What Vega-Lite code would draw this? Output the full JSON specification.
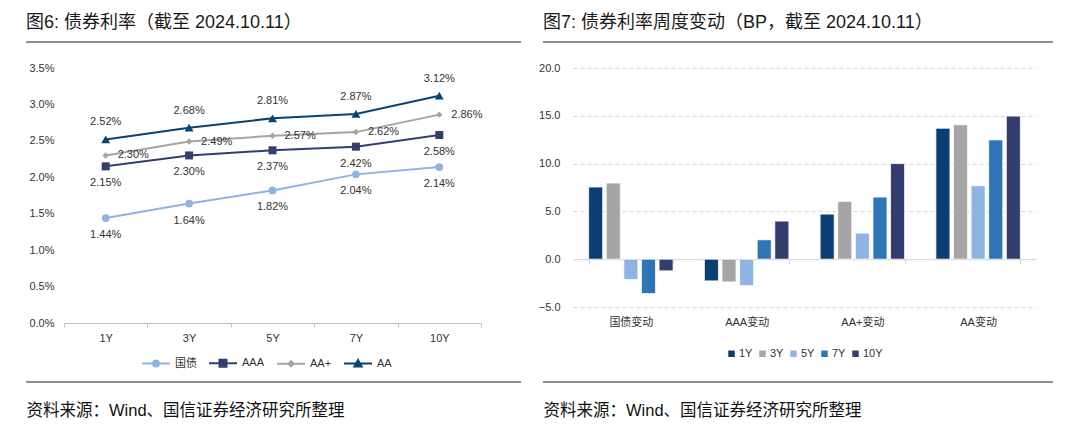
{
  "$schema": "https://vega.github.io/schema/vega-lite/v6.json",
  "background": "white",
  "padding": {"left": 25, "top": 13, "right": 5, "bottom": 5},
  "spacing": 15,
  "resolve": {"scale": {"color": "independent"}, "legend": {"color": "independent"}},
  "config": {
    "font": "Liberation Sans, Noto Sans CJK SC",
    "title": {"anchor": "start", "frame": "group", "offset": 10, "baseline": "alphabetic", "fontSize": 18, "fontWeight": "normal", "color": "#1a1a1a"},
    "legend": {"padding": 0}
  },
  "hconcat": [
    {
      "width": 495,
      "height": 340,
      "view": {"stroke": "#6b6b6b", "strokeWidth": 1.5, "strokeDash": [495, 340]},
      "title": {"text": "图6: 债券利率（截至 2024.10.11）"},
      "data": {"values": [
        {"series": "国债", "tenor": "1Y", "rate": 0.0144},
        {"series": "国债", "tenor": "3Y", "rate": 0.0164},
        {"series": "国债", "tenor": "5Y", "rate": 0.0182},
        {"series": "国债", "tenor": "7Y", "rate": 0.0204},
        {"series": "国债", "tenor": "10Y", "rate": 0.0214},
        {"series": "AAA", "tenor": "1Y", "rate": 0.0215},
        {"series": "AAA", "tenor": "3Y", "rate": 0.0230},
        {"series": "AAA", "tenor": "5Y", "rate": 0.0237},
        {"series": "AAA", "tenor": "7Y", "rate": 0.0242},
        {"series": "AAA", "tenor": "10Y", "rate": 0.0258},
        {"series": "AA+", "tenor": "1Y", "rate": 0.0230},
        {"series": "AA+", "tenor": "3Y", "rate": 0.0249},
        {"series": "AA+", "tenor": "5Y", "rate": 0.0257},
        {"series": "AA+", "tenor": "7Y", "rate": 0.0262},
        {"series": "AA+", "tenor": "10Y", "rate": 0.0286},
        {"series": "AA", "tenor": "1Y", "rate": 0.0252},
        {"series": "AA", "tenor": "3Y", "rate": 0.0268},
        {"series": "AA", "tenor": "5Y", "rate": 0.0281},
        {"series": "AA", "tenor": "7Y", "rate": 0.0287},
        {"series": "AA", "tenor": "10Y", "rate": 0.0312}
      ]},
      "encoding": {
        "x": {
          "field": "tenor", "type": "ordinal", "sort": ["1Y", "3Y", "5Y", "7Y", "10Y"], "bandPosition": 0.5,
          "scale": {"type": "band", "range": [38, 455], "paddingInner": 0, "paddingOuter": 0},
          "axis": {
            "orient": "bottom", "offset": -59, "tickBand": "extent", "domainColor": "#bfbfbf", "tickColor": "#bfbfbf",
            "tickSize": 4, "labelPadding": 5, "labelFontSize": 11, "labelColor": "#333333", "labelAngle": 0, "grid": false,
            "title": "资料来源：Wind、国信证券经济研究所整理", "titleX": 0, "titleY": 87, "titleAlign": "left",
            "titleBaseline": "middle", "titleFontSize": 16.5, "titleFontWeight": "normal", "titleColor": "#111111"
          }
        },
        "y": {
          "field": "rate", "type": "quantitative",
          "scale": {"domain": [0, 0.035], "range": [281, 26], "nice": false, "zero": true},
          "axis": {
            "offset": -38, "values": [0, 0.005, 0.01, 0.015, 0.02, 0.025, 0.03, 0.035], "format": ".1%",
            "domain": false, "ticks": false, "grid": false, "labelPadding": 10, "labelFontSize": 11, "labelColor": "#333333", "title": null
          }
        },
        "color": {
          "field": "series", "type": "nominal",
          "scale": {"domain": ["国债", "AAA", "AA+", "AA"], "range": ["#8db4e2", "#333f70", "#a5a5a5", "#0b4373"]},
          "legend": {
            "orient": "none", "legendX": 115, "legendY": 306, "direction": "horizontal", "title": null,
            "symbolSize": 784, "symbolStrokeWidth": 2, "labelFontSize": 11, "labelColor": "#333333",
            "labelOffset": 4, "columnPadding": 8,
            "encode": {"symbols": {"update": {
              "shape": {"signal": "datum.value === '国债' ? 'M-1,0H1M0.21,0A0.21,0.21,0,1,1,-0.21,0A0.21,0.21,0,1,1,0.21,0Z' : datum.value === 'AAA' ? 'M-1,0H1M-0.25,-0.25H0.25V0.25H-0.25Z' : datum.value === 'AA+' ? 'M-1,0H1M0,-0.18L0.18,0L0,0.18L-0.18,0Z' : 'M-1,0H1M0,-0.26L0.26,0.2H-0.26Z'"},
              "size": {"value": 784},
              "fill": {"signal": "datum.value === '国债' ? '#8db4e2' : datum.value === 'AAA' ? '#333f70' : datum.value === 'AA+' ? '#a5a5a5' : '#0b4373'"},
              "stroke": {"signal": "datum.value === '国债' ? '#8db4e2' : datum.value === 'AAA' ? '#333f70' : datum.value === 'AA+' ? '#a5a5a5' : '#0b4373'"},
              "strokeWidth": {"value": 2},
              "opacity": {"value": 1},
              "fillOpacity": {"value": 1}
            }}}
          }
        }
      },
      "layer": [
        {"mark": {"type": "line", "strokeWidth": 2}},
        {
          "mark": {"type": "point", "filled": true, "opacity": 1, "strokeWidth": 0},
          "encoding": {
            "shape": {"field": "series", "type": "nominal", "scale": {"domain": ["国债", "AAA", "AA+", "AA"], "range": ["circle", "square", "diamond", "triangle-up"]}, "legend": null},
            "size": {"field": "series", "type": "nominal", "scale": {"type": "ordinal", "domain": ["国债", "AAA", "AA+", "AA"], "range": [60, 64, 42, 80]}, "legend": null}
          }
        },
        {
          "transform": [{"filter": "datum.series === 'AA'"}],
          "mark": {"type": "text", "dy": -17, "fontSize": 11, "baseline": "middle"},
          "encoding": {"text": {"field": "rate", "type": "quantitative", "format": ".2%"}, "color": {"value": "#333333"}}
        },
        {
          "transform": [{"filter": "datum.series === 'AA+'"}],
          "mark": {"type": "text", "dx": 12, "align": "left", "fontSize": 11, "baseline": "middle"},
          "encoding": {"text": {"field": "rate", "type": "quantitative", "format": ".2%"}, "color": {"value": "#333333"}}
        },
        {
          "transform": [{"filter": "datum.series === 'AAA' || datum.series === '国债'"}],
          "mark": {"type": "text", "dy": 17, "fontSize": 11, "baseline": "middle"},
          "encoding": {"text": {"field": "rate", "type": "quantitative", "format": ".2%"}, "color": {"value": "#333333"}}
        }
      ]
    },
    {
      "width": 510,
      "height": 340,
      "view": {"stroke": "#6b6b6b", "strokeWidth": 1.5, "strokeDash": [510, 340]},
      "title": {"text": "图7: 债券利率周度变动（BP，截至 2024.10.11）"},
      "data": {"values": [
        {"category": "国债变动", "tenor": "1Y", "bp": 7.55},
        {"category": "国债变动", "tenor": "3Y", "bp": 7.97},
        {"category": "国债变动", "tenor": "5Y", "bp": -2.13},
        {"category": "国债变动", "tenor": "7Y", "bp": -3.6},
        {"category": "国债变动", "tenor": "10Y", "bp": -1.22},
        {"category": "AAA变动", "tenor": "1Y", "bp": -2.27},
        {"category": "AAA变动", "tenor": "3Y", "bp": -2.38},
        {"category": "AAA变动", "tenor": "5Y", "bp": -2.76},
        {"category": "AAA变动", "tenor": "7Y", "bp": 2.03},
        {"category": "AAA变动", "tenor": "10Y", "bp": 3.99},
        {"category": "AA+变动", "tenor": "1Y", "bp": 4.72},
        {"category": "AA+变动", "tenor": "3Y", "bp": 6.05},
        {"category": "AA+变动", "tenor": "5Y", "bp": 2.73},
        {"category": "AA+变动", "tenor": "7Y", "bp": 6.5},
        {"category": "AA+变动", "tenor": "10Y", "bp": 10.0},
        {"category": "AA变动", "tenor": "1Y", "bp": 13.7},
        {"category": "AA变动", "tenor": "3Y", "bp": 14.06},
        {"category": "AA变动", "tenor": "5Y", "bp": 7.69},
        {"category": "AA变动", "tenor": "7Y", "bp": 12.48},
        {"category": "AA变动", "tenor": "10Y", "bp": 14.97}
      ]},
      "mark": {"type": "bar", "stroke": "white", "strokeWidth": 0.8},
      "encoding": {
        "x": {
          "field": "category", "type": "nominal", "sort": ["国债变动", "AAA变动", "AA+变动", "AA变动"],
          "scale": {"type": "band", "range": [30, 493], "paddingInner": 0.27, "paddingOuter": 0.135},
          "axis": {
            "orient": "bottom", "offset": -122.8, "tickBand": "extent", "domainColor": "#d0d0d0", "tickColor": "#d0d0d0",
            "tickSize": 4, "labelPadding": 53, "labelFontSize": 11, "labelColor": "#333333", "labelAngle": 0, "grid": false,
            "title": "资料来源：Wind、国信证券经济研究所整理", "titleX": 0, "titleY": 151, "titleAlign": "left",
            "titleBaseline": "middle", "titleFontSize": 16.5, "titleFontWeight": "normal", "titleColor": "#111111"
          }
        },
        "xOffset": {"field": "tenor", "type": "nominal", "sort": ["1Y", "3Y", "5Y", "7Y", "10Y"], "scale": {"paddingInner": 0.2, "paddingOuter": 0}},
        "y": {
          "field": "bp", "type": "quantitative",
          "scale": {"domain": [-5, 20], "range": [265, 26], "nice": false},
          "axis": {
            "offset": -30, "values": [-5, 0, 5, 10, 15, 20], "format": ".1f", "domain": false, "ticks": false,
            "grid": true, "gridColor": "#d9d9d9", "gridDash": [4, 3], "gridWidth": 1,
            "gridOpacity": {"condition": {"test": "datum.value === 0", "value": 0}, "value": 1},
            "labelPadding": 13, "labelFontSize": 11, "labelColor": "#333333", "title": null
          }
        },
        "color": {
          "field": "tenor", "type": "nominal",
          "scale": {"domain": ["1Y", "3Y", "5Y", "7Y", "10Y"], "range": ["#0b3f73", "#a5a5a5", "#8eb4e3", "#2e75b6", "#333d6e"]},
          "legend": {
            "orient": "none", "legendX": 183, "legendY": 306, "direction": "horizontal", "title": null,
            "symbolType": "square", "symbolSize": 42, "symbolStrokeWidth": 0, "labelFontSize": 11, "labelColor": "#333333",
            "labelOffset": 2, "columnPadding": 4
          }
        }
      }
    }
  ]
}
